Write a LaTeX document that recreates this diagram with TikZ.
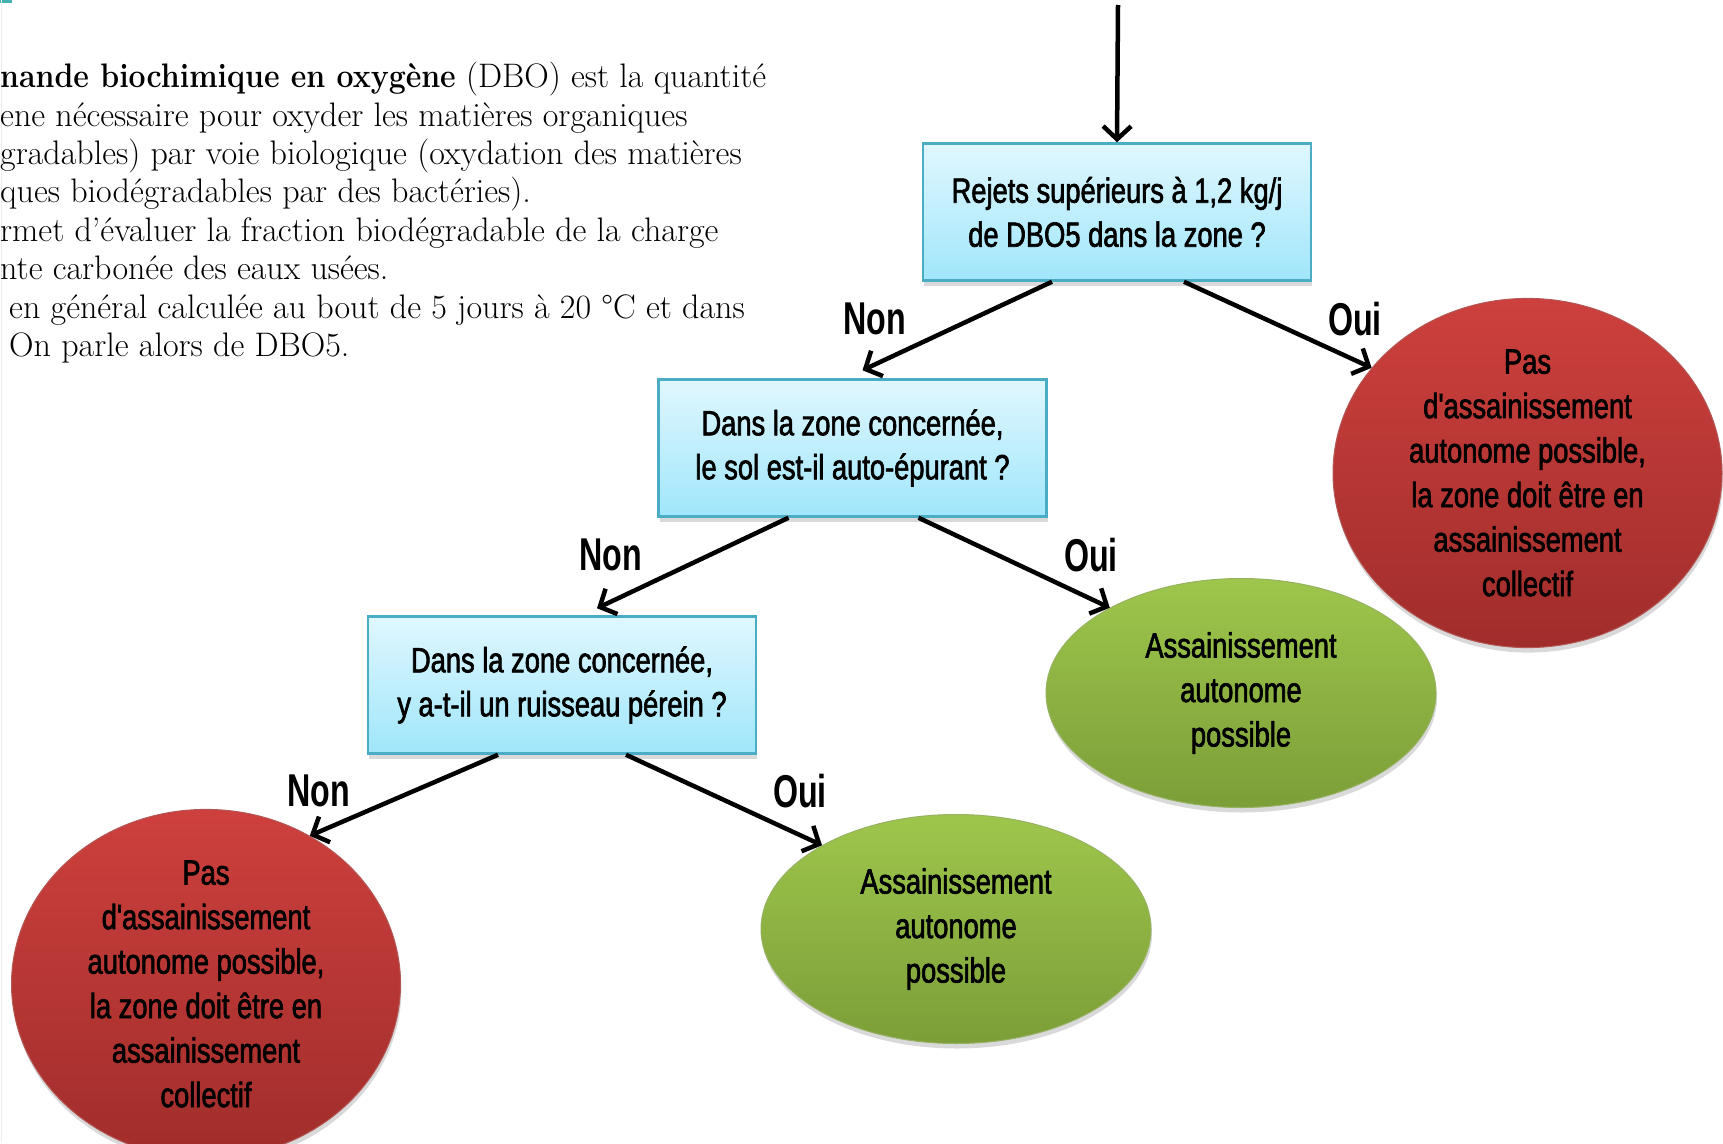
\documentclass[tikz,border=0pt]{standalone}
\usepackage{fontspec}
\usetikzlibrary{arrows.meta, positioning, shapes.geometric, shadows}
\newfontfamily\etroite[FakeStretch=0.78,FakeBold=1.8]{Liberation Sans}
\newfontfamily\etiqfont[FakeStretch=0.7]{Liberation Sans}
\definecolor{bleuhaut}{RGB}{224,247,254}
\definecolor{bleubas}{RGB}{160,230,251}
\definecolor{bleubord}{RGB}{75,172,198}
\definecolor{rougehaut}{RGB}{205,64,61}
\definecolor{rougebas}{RGB}{160,45,43}
\definecolor{verthaut}{RGB}{158,198,76}
\definecolor{vertbas}{RGB}{124,158,56}
\definecolor{coinbleu}{RGB}{64,176,176}

\begin{document}
\begin{tikzpicture}[x=1pt, y=-1pt,
		question/.style={draw=bleubord, line width=2.5pt, rectangle, top color=bleuhaut, bottom color=bleubas, minimum width=388pt, minimum height=137pt, align=center, font=\etroite\fontsize{35}{44}\selectfont, drop shadow={shadow xshift=1pt, shadow yshift=-5pt, opacity=0.3}},
		refus/.style={ellipse, draw=rougebas!80!white, line width=1pt, top color=rougehaut, bottom color=rougebas, minimum width=389pt, minimum height=319pt, inner sep=0pt, align=center, font=\etroite\fontsize{35}{44.5}\selectfont, drop shadow={shadow xshift=1pt, shadow yshift=-5pt, opacity=0.3}},
		accord/.style={ellipse, draw=vertbas!80!white, line width=1pt, top color=verthaut, bottom color=vertbas, minimum width=390pt, minimum height=229pt, inner sep=0pt, align=center, font=\etroite\fontsize{35}{44.5}\selectfont, drop shadow={shadow xshift=1pt, shadow yshift=-5pt, opacity=0.3}},
		etiq/.style={font=\etiqfont\bfseries\fontsize{46}{50}\selectfont, inner sep=0pt},
		texte/.style={font=\fontsize{34}{38.4}\selectfont, align=left, inner sep=0pt},
		fleche/.style={-{Straight Barb[length=13pt,width=28pt]}, line width=4.5pt}
		]
		\useasboundingbox (0,0) rectangle (1723,1143);
		\draw[line width=3pt, coinbleu] (0,1.5) -- (12,1.5);
		\draw[line width=1pt, gray!15] (1.5,0) -- (1.5,1143);

		% texte de gauche
		\node[texte, anchor=north west] (dbo) at (0,62) {\scalebox{0.89}[1]{\textbf{nande biochimique en oxygène}} (DBO) est la quantité\\
			ene nécessaire pour oxyder les matières organiques\\
			gradables) par voie biologique (oxydation des matières\\
			ques biodégradables par des bactéries).\\
			rmet d'évaluer la fraction biodégradable de la charge\\
			nte carbonée des eaux usées.\\
			\hspace*{9pt}en général calculée au bout de 5 jours à 20~°C et dans\\
			\hspace*{9pt}On parle alors de DBO5.};

		% questions
		\node (q1) [question] at (1117,212) {Rejets supérieurs à 1,2 kg/j\\de DBO5 dans la zone ?};
		\node (q2) [question] at (852.5,448) {Dans la zone concernée,\\le sol est-il auto-épurant ?};
		\node (q3) [question] at (562,685) {Dans la zone concernée,\\y a-t-il un ruisseau pérein ?};

		% reponses
		\node (rouge1) [refus] at (1527.5,473) {Pas\\d'assainissement\\autonome possible,\\la zone doit être en\\assainissement\\collectif};
		\node (vert1) [accord] at (1241,693) {Assainissement\\autonome\\possible};
		\node (rouge2) [refus] at (206,984) {Pas\\d'assainissement\\autonome possible,\\la zone doit être en\\assainissement\\collectif};
		\node (vert2) [accord] at (956,929) {Assainissement\\autonome\\possible};

		\coordinate (entree) at (1118,5);
		\draw [fleche] (entree) -- (q1.north);
		\draw [fleche] ([xshift=-65pt]q1.south) -- ([xshift=10pt,yshift=8pt]q2.north);
		\draw [fleche] ([xshift=67pt]q1.south) -- (rouge1.146);
		\draw [fleche] ([xshift=-64pt]q2.south) -- ([xshift=35pt,yshift=7pt]q3.north);
		\draw [fleche] ([xshift=66pt]q2.south) -- (vert1.147);
		\draw [fleche] ([xshift=-64pt]q3.south) -- (rouge2.55);
		\draw [fleche] ([xshift=64pt]q3.south) -- (vert2.148);

		\node (non1) [etiq] at (875,319) {Non};
		\node (oui1) [etiq] at (1355,319) {Oui};
		\node (non2) [etiq] at (611,555) {Non};
		\node (oui2) [etiq] at (1091,555) {Oui};
		\node (non3) [etiq] at (319,791) {Non};
		\node (oui3) [etiq] at (800,791) {Oui};

	\end{tikzpicture}
\end{document}
